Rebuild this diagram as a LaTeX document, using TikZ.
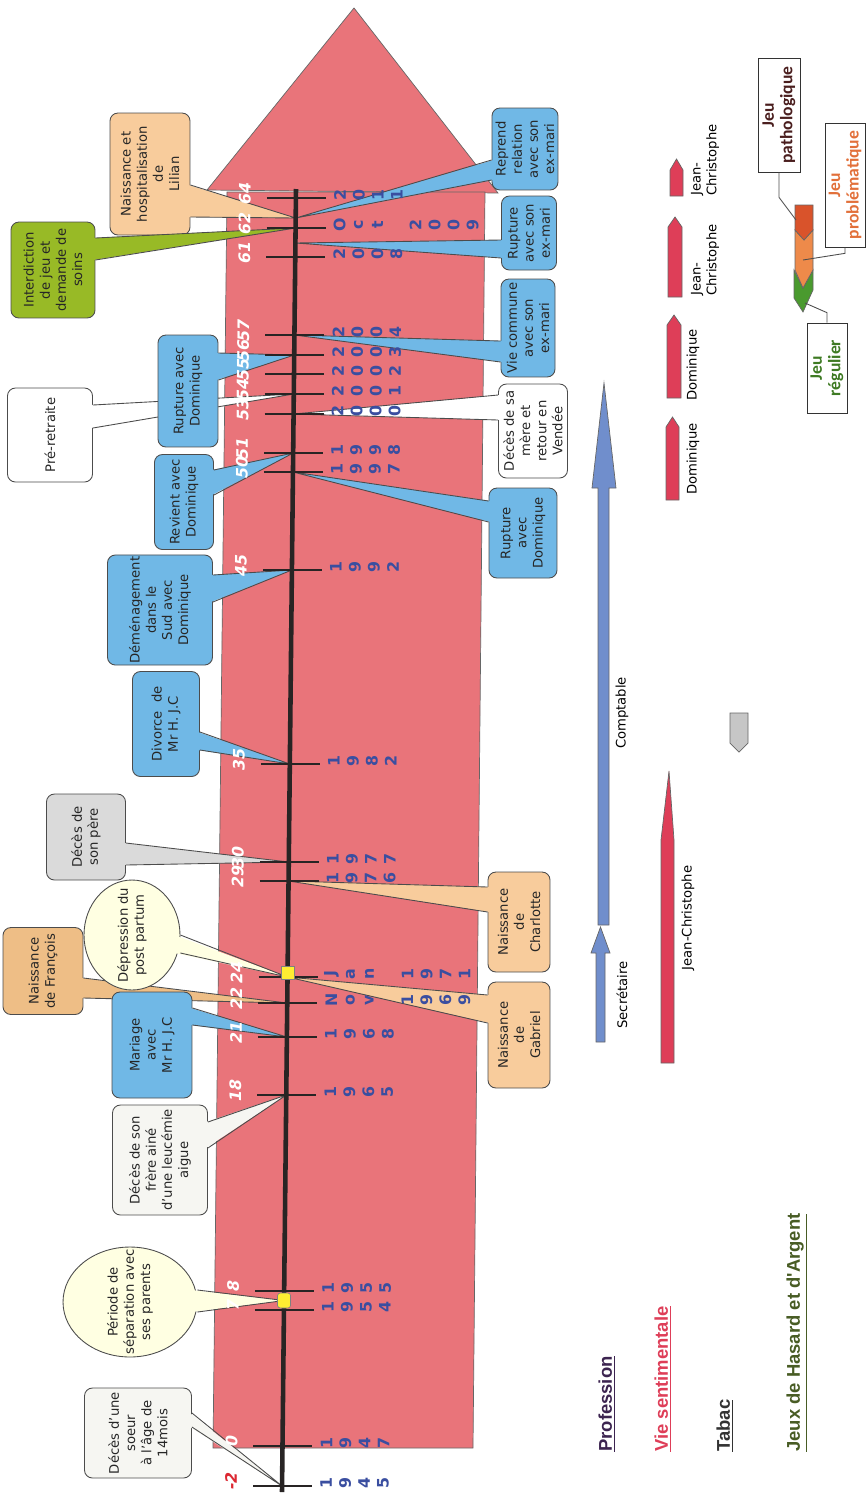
\documentclass[tikz,border=0pt]{standalone}
\usepackage{fontspec}
\setmainfont{DejaVu Sans}
\newfontfamily\titlefont{Liberation Sans}
\newfontfamily\jeufont{Carlito}
\usepackage{tikz}
\usetikzlibrary{calc,shapes.geometric}

\definecolor{tlpink}{RGB}{233,116,122}
\definecolor{axisblack}{RGB}{40,36,36}
\definecolor{yearblue}{RGB}{58,78,160}
\definecolor{tlred}{RGB}{220,40,50}
\definecolor{cblue}{RGB}{112,184,230}
\definecolor{ctan}{RGB}{248,204,156}
\definecolor{ctandark}{RGB}{238,190,134}
\definecolor{cgreen}{RGB}{152,186,38}
\definecolor{cgray}{RGB}{218,218,218}
\definecolor{coffwhite}{RGB}{246,246,242}
\definecolor{bubbleyellow}{RGB}{255,255,226}
\definecolor{markyellow}{RGB}{255,238,50}
\definecolor{profblue}{RGB}{112,142,204}
\definecolor{vsred}{RGB}{222,62,88}
\definecolor{profpurple}{RGB}{60,36,80}
\definecolor{jeuolive}{RGB}{72,92,36}
\definecolor{jred}{RGB}{217,83,43}
\definecolor{jorange}{RGB}{238,138,74}
\definecolor{jgreen}{RGB}{74,154,46}
\definecolor{jpatcol}{RGB}{74,30,30}
\definecolor{jprobcol}{RGB}{226,112,58}
\definecolor{jregcol}{RGB}{62,122,35}

% pointer of a callout: anchor, inset, dy1, dy2, apex, colour
\newcommand{\ptr}[6]{%
  \fill[#6] ($(#1)+(#2,#3)$) -- (#5) -- ($(#1)+(#2,#4)$) -- cycle;
  \draw[outl] ($(#1)+(0,#3)$) -- (#5) -- ($(#1)+(0,#4)$);}

% age / y position / year characters
\newcommand{\tickdata}{-2/1486/{1,9,4,5}, 0/1446/{1,9,4,7}, 7/1310/{1,9,5,4},
  8/1291/{1,9,5,5}, 18/1095/{1,9,6,5}, 21/1037/{1,9,6,8},
  22/1003/{N,o,v,{},1,9,6,9}, 24/977/{J,a,n,{},1,9,7,1}, 29/881/{1,9,7,6},
  30/862/{1,9,7,7}, 35/764/{1,9,8,2}, 45/570/{1,9,9,2}, 50/472/{1,9,9,7},
  51/453/{1,9,9,8}, 53/414/{2,0,0,0}, 54/394/{2,0,0,1}, 55/374/{2,0,0,2},
  56/355/{2,0,0,3}, 57/335/{2,0,0,4}, 61/257/{2,0,0,8},
  62/228/{O,c,t,{},2,0,0,9}, 64/198/{2,0,1,1}}

\begin{document}
\begin{tikzpicture}[x=0.02cm, y=-0.02cm,
  outl/.style={draw=black!70, line width=0.5pt},
  callout/.style={draw=black!70, line width=0.5pt, rounded corners=4.5pt, rotate=90,
                  align=center, inner sep=1pt, text=black!85,
                  font=\fontsize{7.5}{9.2}\selectfont},
  bubble/.style={callout, shape=ellipse, fill=bubbleyellow, inner ysep=0pt},
  tickline/.style={line width=1.6pt, draw=axisblack},
  agelab/.style={rotate=90, inner sep=0pt, font=\fontsize{9}{9}\selectfont\bfseries\itshape},
  yrdigit/.style={rotate=90, inner sep=0pt, text=yearblue, font=\fontsize{9}{9}\selectfont\bfseries},
  legtext/.style={rotate=90, align=left, inner sep=1pt, font=\fontsize{7.5}{9}\selectfont},
  sectitle/.style={rotate=90, anchor=west, inner sep=0pt, font=\titlefont\fontsize{10.5}{12}\selectfont\bfseries},
  jeulabel/.style={draw=black!80, fill=white, rotate=90, align=center, inner sep=1pt,
                   font=\jeufont\fontsize{10}{10.5}\selectfont\bfseries}]
\useasboundingbox (0,0) rectangle (866,1495);

% points on the time axis
\foreach \a/\y/\yr in \tickdata {
  \pgfmathsetmacro{\ax}{282+(1492-\y)*0.01075}
  \coordinate (a\a) at (\ax,\y);
}
\coordinate (e63) at ({282+(1492-218)*0.01075},218);
\coordinate (e61) at ({282+(1492-243)*0.01075},243);
\coordinate (sep78) at ($(a7)!0.5!(a8)$);

% the big arrow
\filldraw[fill=tlpink, draw=black!60, line width=0.4pt] (207,190) -- (354,8) -- (498,193) -- cycle;
\filldraw[fill=tlpink, draw=black!60, line width=0.4pt] (213,1448) -- (227,192) -- (485,192) -- (473,1448) -- cycle;

% callouts, left
\node[callout, fill=ctan, minimum width=2.44cm, minimum height=1.6cm] (lilian) at (150,174)
  {Naissance et\\hospitalisation\\de\\Lilian};
\ptr{lilian.south}{-2}{11}{43}{e63}{ctan}
\node[callout, fill=cgreen, minimum width=1.92cm, minimum height=1.68cm] (interdit) at (53,270)
  {Interdiction\\de jeu et\\demande de\\soins};
\ptr{interdit.south}{-2}{-32}{-10}{a62}{cgreen}
\node[callout, fill=white, minimum width=1.88cm, minimum height=1.7cm] (preret) at (50,435) {Pré-retraite};
\ptr{preret.south}{-2}{-30}{-7}{a54}{white}
\node[callout, fill=cblue, minimum width=2.24cm, minimum height=1.2cm] (rupDomL) at (188,391)
  {Rupture avec\\Dominique};
\ptr{rupDomL.south}{-2}{-38}{-11}{a56}{cblue}
\node[callout, fill=cblue, minimum width=1.9cm, minimum height=1.18cm] (revient) at (184,502)
  {Revient avec\\Dominique};
\ptr{revient.south}{-2}{-32}{-7}{a51}{cblue}
\node[callout, fill=cblue, minimum width=2.12cm, minimum height=2.1cm] (demenag) at (160,610)
  {Déménagement\\dans le\\Sud avec\\Dominique};
\ptr{demenag.south}{-2}{-35}{-8}{a45}{cblue}
\node[callout, fill=cblue, minimum width=2.1cm, minimum height=1.34cm] (divorce) at (166,724)
  {Divorce\ \ de\\Mr H. J.C};
\ptr{divorce.south}{-2}{8}{26}{a35}{cblue}
\node[callout, fill=cgray, minimum width=1.72cm, minimum height=1.58cm] (decesPere) at (86,837)
  {Décès de\\son père};
\ptr{decesPere.south}{-2}{6}{28}{a30}{cgray}
\node[callout, fill=ctandark, minimum width=1.74cm, minimum height=1.6cm] (francois) at (43,971)
  {Naissance\\de François};
\ptr{francois.south}{-2}{7}{27}{a22}{ctandark}
\node[bubble, minimum width=2.2cm, minimum height=1.92cm, inner xsep=-5pt] (depress) at (132,935)
  {Dépression du\\post partum};
\ptr{depress.south}{-6}{0}{18}{a24}{bubbleyellow}
\node[callout, fill=cblue, minimum width=2.12cm, minimum height=1.6cm] (mariage) at (152,1045)
  {Mariage\\avec\\Mr H. J.C};
\ptr{mariage.south}{-2}{-37}{-20}{a21}{cblue}
\node[callout, fill=coffwhite, minimum width=2.2cm, minimum height=1.9cm] (decesFrere) at (160,1160)
  {Décès de son\\frère ainé\\d'une leucémie\\aigue};
\ptr{decesFrere.south}{-2}{-38}{-12}{a18}{coffwhite}
\node[bubble, minimum width=2.2cm, minimum height=2.68cm, inner xsep=-8pt] (separ) at (130,1302)
  {Période de\\séparation avec\\ses parents};
\ptr{separ.south}{-6}{-12}{10}{sep78}{bubbleyellow}
\node[callout, fill=coffwhite, minimum width=1.8cm, minimum height=2.14cm] (decesSoeur) at (138,1433)
  {Décès d'une\\soeur\\à l'âge de\\14mois};
\ptr{decesSoeur.south}{-2}{-20}{-6}{a-2}{coffwhite}

% callouts, right
\node[callout, fill=cblue, minimum width=1.64cm, minimum height=1.32cm] (reprend) at (525,149)
  {Reprend\\relation\\avec son\\ex-mari};
\ptr{reprend.north}{2}{11}{31}{e63}{cblue}
\node[callout, fill=cblue, minimum width=1.48cm, minimum height=1.1cm] (rupEx) at (529,233)
  {Rupture\\avec son\\ex-mari};
\ptr{rupEx.north}{2}{7}{25}{e61}{cblue}
\node[callout, fill=cblue, minimum width=1.96cm, minimum height=1.08cm] (vieCom) at (528,328)
  {Vie commune\\avec son\\ex-mari};
\ptr{vieCom.north}{2}{13}{34}{a57}{cblue}
\node[callout, fill=white, minimum width=1.88cm, minimum height=1.38cm] (decesMere) at (533,431)
  {Décès de sa\\mère et\\retour en\\Vendée};
\ptr{decesMere.north}{2}{-36}{-11}{a53}{white}
\node[callout, fill=cblue, minimum width=1.8cm, minimum height=1.36cm] (rupDomR) at (523,533)
  {Rupture\\avec\\Dominique};
\ptr{rupDomR.north}{2}{-32}{-11}{a50}{cblue}
\node[callout, fill=ctan, minimum width=2.0cm, minimum height=1.24cm] (charlotte) at (519,922)
  {Naissance\\de\\Charlotte};
\ptr{charlotte.north}{2}{-35}{-10}{a29}{ctan}
\node[callout, fill=ctan, minimum width=2.12cm, minimum height=1.24cm] (gabriel) at (519,1035)
  {Naissance\\de\\Gabriel};
\ptr{gabriel.north}{2}{-40}{-12}{a24}{ctan}

% time axis, ticks, ages and years
\draw[line width=2.6pt, axisblack] (282,1492) -- (296,189);
\foreach \a/\y/\yr in \tickdata {
  \pgfmathsetmacro{\ax}{282+(1492-\y)*0.01075}
  \draw[tickline] (\ax-29,\y) -- (\ax+30,\y);
  \ifdim\a pt<0pt \def\agecol{tlred}\else\def\agecol{white}\fi
  \node[agelab, text=\agecol] (age\a) at (\ax-51,\y-5) {\a};
  \foreach \c [count=\i from 0] in \yr
    \node[yrdigit] (yr\a-\i) at (\ax+44+19*\i,\y-3) {\c};
}
\node[draw=black!50, fill=markyellow, minimum size=0.26cm, inner sep=0pt] (mark24) at ($(a24)+(0,-4)$) {};
\node[draw=black!50, fill=markyellow, minimum width=0.26cm, minimum height=0.3cm, inner sep=0pt,
      rounded corners=1.5pt] (mark78) at (sep78) {};

% profession
\filldraw[fill=profblue, draw=black!60] (596,1042) -- (596,953) -- (591,953) -- (600.5,927)
  -- (610,953) -- (605,953) -- (605,1042) -- cycle;
\filldraw[fill=profblue, draw=black!60] (598,925) -- (598,488) -- (592,488) -- (604,383)
  -- (616,488) -- (609,488) -- (609,925) -- cycle;
\node[legtext] (lbSecr) at (622,995) {Secrétaire};
\node[legtext] (lbCompt) at (622,713) {Comptable};

% vie sentimentale
\filldraw[fill=vsred, draw=black!60] (661,1063) -- (661,840) -- (669,771) -- (674,840) -- (674,1063) -- cycle;
\foreach \xl/\xr/\yb/\ys/\yt in {666/679/500/427/417, 667/681/398/325/315, 668/682/297/227/217, 670/683/196/170/159}
  \filldraw[fill=vsred, draw=black!60] (\xl,\yb) -- (\xl,\ys) -- ({(\xl+\xr)/2},\yt) -- (\xr,\ys) -- (\xr,\yb) -- cycle;
\node[legtext] (lbJC) at (688,918) {Jean-Christophe};
\node[legtext] (lbDom1) at (693,459) {Dominique};
\node[legtext] (lbDom2) at (693,365) {Dominique};
\node[legtext] (lbJC2) at (705,260) {Jean-\\Christophe};
\node[legtext] (lbJC3) at (705,160) {Jean-\\Christophe};

% tabac
\filldraw[fill=gray!45, draw=black!60] (730,713) -- (748,713) -- (748,743) -- (739,752) -- (730,743) -- cycle;

% jeux
\filldraw[fill=jgreen, draw=black!60] (794,270) -- (803,288) -- (813,270) -- (813,290) -- (803,312) -- (794,298) -- cycle;
\filldraw[fill=jorange, draw=black!60] (795,230) -- (804,240) -- (813,230) -- (813,270) -- (803,288) -- (795,270) -- cycle;
\filldraw[fill=jred, draw=black!60] (795,205) -- (813,205) -- (813,230) -- (804,240) -- (795,230) -- cycle;
\coordinate (cpat) at (796,220);
\coordinate (cprob) at (803,260);
\coordinate (creg) at (805,303);
\node[jeulabel, text=jpatcol, minimum width=2.28cm, minimum height=0.84cm] (jpat) at (779,115) {Jeu\\pathologique};
\node[jeulabel, text=jprobcol, minimum width=2.48cm, minimum height=0.8cm] (jprob) at (845,185) {Jeu\\problématique};
\node[jeulabel, text=jregcol, minimum width=1.8cm, minimum height=0.8cm] (jreg) at (827,368) {Jeu\\régulier};
\draw[outl] (jpat.west) -- ++(0,25) -- (cpat);
\draw[outl] (jprob.west) -- ++(0,6) -- (cprob);
\draw[outl] (jreg.east) -- ++(0,-10) -- (creg);

% section titles
\node[sectitle, text=profpurple] (tProf) at (607,1452) {\underline{Profession}};
\node[sectitle, text=vsred] (tVie) at (663,1452) {\underline{Vie sentimentale}};
\node[sectitle, text=black!80] (tTabac) at (725,1452) {\underline{Tabac}};
\node[sectitle, text=jeuolive] (tJeux) at (797,1452) {\underline{Jeux de Hasard et d'Argent}};
\end{tikzpicture}
\end{document}
